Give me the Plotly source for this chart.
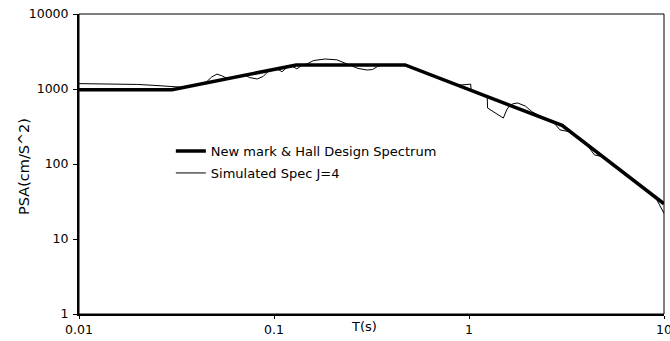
import plotly.graph_objects as go

# Newmark & Hall design spectrum (corner points)
T_design = [0.01, 0.03, 0.13, 0.47, 3.0, 10.0]
PSA_design = [980, 980, 2090, 2090, 327, 29.5]

# Simulated spectrum J=4
T_sim = [0.01, 0.0166, 0.02, 0.024, 0.027, 0.03, 0.034, 0.04, 0.045, 0.048, 0.051,
         0.054, 0.057, 0.062, 0.067, 0.071, 0.075, 0.082, 0.088, 0.093, 0.1, 0.106,
         0.11, 0.116, 0.124, 0.131, 0.14, 0.147, 0.16, 0.183, 0.21, 0.237, 0.254,
         0.27, 0.30, 0.32, 0.34, 0.36, 0.47, 0.6, 0.83, 0.9, 1.0, 1.02, 1.025, 1.1,
         1.24, 1.245, 1.50, 1.56, 1.62, 1.7, 1.78, 1.95, 2.1, 2.26, 2.5, 2.7, 2.93,
         3.3, 3.7, 4.0, 4.4, 4.86, 5.5, 6.5, 7.5, 8.5, 9.2, 10.0]
PSA_sim = [1180, 1175, 1150, 1120, 1090, 1070, 1055, 1140, 1240, 1450, 1580,
           1500, 1400, 1440, 1490, 1530, 1420, 1360, 1470, 1700, 1830, 1800,
           1700, 1920, 2000, 1860, 2090, 2150, 2400, 2510, 2450, 2120, 2000,
           1880, 1790, 1820, 2000, 2090, 2090, 1640, 1183, 1130, 1166, 1160, 965, 893,
           792, 558, 410, 525, 610, 640, 650, 590, 500, 450, 395, 362, 285,
           268, 215, 184, 132, 125, 97, 70, 53, 42, 33, 22]

x_ticks = [0.01, 0.1, 1, 10]
x_ticktext = ["0.01", "0.1", "1", "10"]
y_ticks = [1, 10, 100, 1000, 10000]
y_ticktext = ["1", "10", "100", "1000", "10000"]

FONT = "DejaVu Sans"

fig = go.Figure()
fig.add_trace(go.Scatter(x=T_design, y=PSA_design, mode="lines",
                         name="New mark & Hall Design Spectrum", showlegend=True,
                         line=dict(color="black", width=3.5), legend="legend"))
fig.add_trace(go.Scatter(x=T_sim, y=PSA_sim, mode="lines",
                         name="Simulated Spec J=4", showlegend=True,
                         line=dict(color="black", width=1), legend="legend2"))

fig.update_layout(
    width=670, height=341,
    showlegend=True,
    margin=dict(l=79, r=6, t=14, b=27, autoexpand=False),
    paper_bgcolor="white", plot_bgcolor="white",
    font=dict(family=FONT, size=12.5, color="black"),
    xaxis=dict(type="log", range=[-2, 1], tickvals=x_ticks, ticktext=x_ticktext,
               showgrid=False, zeroline=False, showline=True, linecolor="black",
               linewidth=2, ticks="outside", ticklen=3, tickcolor="black",
               ticklabeloverflow="allow", automargin=False,
               tickfont=dict(family=FONT, size=12.5)),
    yaxis=dict(type="log", range=[0, 4], tickvals=y_ticks, ticktext=y_ticktext,
               showgrid=False, zeroline=False, showline=True, linecolor="black",
               linewidth=2, ticks="outside", ticklen=4, tickcolor="black",
               ticklabelstandoff=2, automargin=False,
               tickfont=dict(family=FONT, size=12.5)),
    legend=dict(x=0.157, y=0.543, xanchor="left", yanchor="middle",
                bgcolor="rgba(0,0,0,0)", borderwidth=0,
                font=dict(family=FONT, size=13)),
    legend2=dict(x=0.157, y=0.47, xanchor="left", yanchor="middle",
                 bgcolor="rgba(0,0,0,0)", borderwidth=0,
                 font=dict(family=FONT, size=13)),
    shapes=[dict(type="rect", xref="paper", yref="paper", x0=0, y0=0, x1=1, y1=1,
                 line=dict(color="black", width=1), layer="above")],
    annotations=[
        dict(text="T(s)", xref="paper", yref="paper", x=0.487, y=-0.04,
             xanchor="center", yanchor="middle", showarrow=False,
             font=dict(family=FONT, size=13)),
        dict(text="PSA(cm/S^2)", xref="paper", yref="paper", x=-0.094, y=0.49,
             xanchor="center", yanchor="middle", showarrow=False, textangle=-90,
             font=dict(family=FONT, size=14.5)),
    ],
)

fig.write_html("out.html")
